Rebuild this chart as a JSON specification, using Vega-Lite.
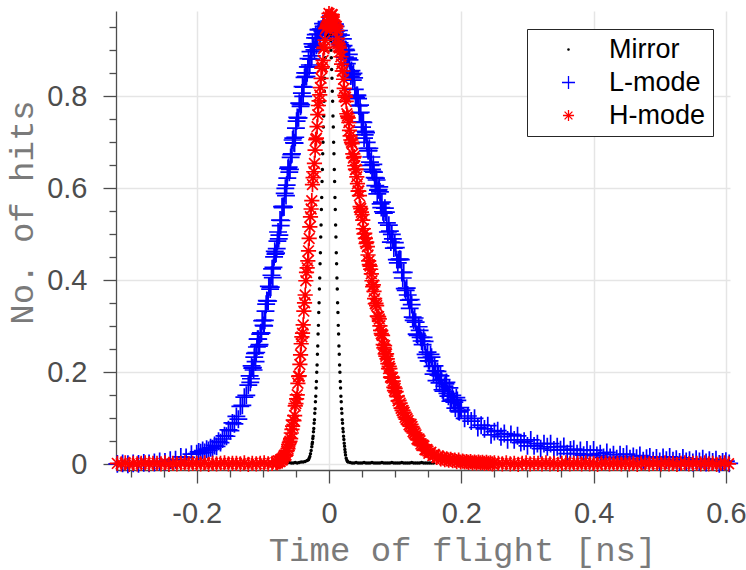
{
"$schema":"https://vega.github.io/schema/vega-lite/v6.json",
"width":614,"height":459,
"autosize":{"type":"none"},
"padding":{"left":116,"top":11,"right":16,"bottom":100},
"background":"white",
"config":{"view":{"stroke":null}},
"datasets":{"pts":[
{"s":"L","x":-0.32,"y":0.001},{"s":"L","x":-0.312,"y":0.002},{"s":"L","x":-0.304,"y":0},{"s":"L","x":-0.296,"y":0.002},{"s":"L","x":-0.288,"y":0.001},{"s":"L","x":-0.28,"y":0.003},{"s":"L","x":-0.272,"y":0.002},{"s":"L","x":-0.264,"y":0.004},{"s":"L","x":-0.256,"y":0.006},{"s":"L","x":-0.248,"y":0.005},{"s":"L","x":-0.24,"y":0.009},{"s":"L","x":-0.232,"y":0.01},{"s":"L","x":-0.224,"y":0.016},{"s":"L","x":-0.216,"y":0.015},{"s":"L","x":-0.208,"y":0.022},{"s":"L","x":-0.2,"y":0.023},
{"s":"L","x":-0.197,"y":0.027},{"s":"L","x":-0.194,"y":0.025},{"s":"L","x":-0.191,"y":0.03},{"s":"L","x":-0.188,"y":0.026},{"s":"L","x":-0.185,"y":0.033},{"s":"L","x":-0.182,"y":0.03},{"s":"L","x":-0.179,"y":0.036},{"s":"L","x":-0.176,"y":0.034},{"s":"L","x":-0.173,"y":0.041},{"s":"L","x":-0.17,"y":0.039},{"s":"L","x":-0.167,"y":0.05},{"s":"L","x":-0.164,"y":0.047},{"s":"L","x":-0.161,"y":0.055},{"s":"L","x":-0.158,"y":0.062},{"s":"L","x":-0.155,"y":0.061},{"s":"L","x":-0.152,"y":0.075},{"s":"L","x":-0.149,"y":0.073},{"s":"L","x":-0.146,"y":0.09},{"s":"L","x":-0.143,"y":0.088},{"s":"L","x":-0.14,"y":0.104},{"s":"L","x":-0.137,"y":0.098},{"s":"L","x":-0.134,"y":0.126},{"s":"L","x":-0.131,"y":0.128},{"s":"L","x":-0.128,"y":0.146},{"s":"L","x":-0.125,"y":0.15},{"s":"L","x":-0.122,"y":0.172},
{"s":"L","x":-0.12,"y":0.192},{"s":"L","x":-0.118,"y":0.186},{"s":"L","x":-0.116,"y":0.209},{"s":"L","x":-0.114,"y":0.205},{"s":"L","x":-0.112,"y":0.241},{"s":"L","x":-0.11,"y":0.243},{"s":"L","x":-0.108,"y":0.272},{"s":"L","x":-0.106,"y":0.257},{"s":"L","x":-0.104,"y":0.283},{"s":"L","x":-0.102,"y":0.285},{"s":"L","x":-0.1,"y":0.313},{"s":"L","x":-0.098,"y":0.301},{"s":"L","x":-0.096,"y":0.333},{"s":"L","x":-0.094,"y":0.356},{"s":"L","x":-0.092,"y":0.355},{"s":"L","x":-0.09,"y":0.386},{"s":"L","x":-0.088,"y":0.385},{"s":"L","x":-0.086,"y":0.425},{"s":"L","x":-0.084,"y":0.428},{"s":"L","x":-0.082,"y":0.463},{"s":"L","x":-0.08,"y":0.459},{"s":"L","x":-0.078,"y":0.485},{"s":"L","x":-0.076,"y":0.49},{"s":"L","x":-0.074,"y":0.531},{"s":"L","x":-0.072,"y":0.53},{"s":"L","x":-0.07,"y":0.558},{"s":"L","x":-0.068,"y":0.559},{"s":"L","x":-0.066,"y":0.6},{"s":"L","x":-0.064,"y":0.607},{"s":"L","x":-0.062,"y":0.643},{"s":"L","x":-0.06,"y":0.635},{"s":"L","x":-0.058,"y":0.667},{"s":"L","x":-0.056,"y":0.675},{"s":"L","x":-0.054,"y":0.709},{"s":"L","x":-0.052,"y":0.698},{"s":"L","x":-0.05,"y":0.731},{"s":"L","x":-0.048,"y":0.754},{"s":"L","x":-0.046,"y":0.753},{"s":"L","x":-0.044,"y":0.784},{"s":"L","x":-0.042,"y":0.782},{"s":"L","x":-0.04,"y":0.821},{"s":"L","x":-0.038,"y":0.82},{"s":"L","x":-0.036,"y":0.851},{"s":"L","x":-0.034,"y":0.843},{"s":"L","x":-0.032,"y":0.864},{"s":"L","x":-0.03,"y":0.864},{"s":"L","x":-0.028,"y":0.897},{"s":"L","x":-0.026,"y":0.888},{"s":"L","x":-0.024,"y":0.908},{"s":"L","x":-0.022,"y":0.901},{"s":"L","x":-0.02,"y":0.934},{"s":"L","x":-0.018,"y":0.927},{"s":"L","x":-0.016,"y":0.945},{"s":"L","x":-0.014,"y":0.927},{"s":"L","x":-0.012,"y":0.946},{"s":"L","x":-0.01,"y":0.941},{"s":"L","x":-0.008,"y":0.952},{"s":"L","x":-0.006,"y":0.933},{"s":"L","x":-0.004,"y":0.95},{"s":"L","x":-0.002,"y":0.955},{"s":"L","x":0,"y":0.943},{"s":"L","x":0.002,"y":0.954},{"s":"L","x":0.004,"y":0.937},{"s":"L","x":0.006,"y":0.953},{"s":"L","x":0.008,"y":0.943},{"s":"L","x":0.01,"y":0.952},{"s":"L","x":0.012,"y":0.933},{"s":"L","x":0.014,"y":0.935},{"s":"L","x":0.016,"y":0.916},{"s":"L","x":0.018,"y":0.933},{"s":"L","x":0.02,"y":0.908},{"s":"L","x":0.022,"y":0.91},{"s":"L","x":0.024,"y":0.885},{"s":"L","x":0.026,"y":0.9},{"s":"L","x":0.028,"y":0.881},{"s":"L","x":0.03,"y":0.891},{"s":"L","x":0.032,"y":0.853},{"s":"L","x":0.034,"y":0.856},{"s":"L","x":0.036,"y":0.835},{"s":"L","x":0.038,"y":0.84},{"s":"L","x":0.04,"y":0.8},{"s":"L","x":0.042,"y":0.802},{"s":"L","x":0.044,"y":0.795},{"s":"L","x":0.046,"y":0.764},{"s":"L","x":0.048,"y":0.765},{"s":"L","x":0.05,"y":0.733},{"s":"L","x":0.052,"y":0.743},{"s":"L","x":0.054,"y":0.716},{"s":"L","x":0.056,"y":0.721},{"s":"L","x":0.058,"y":0.687},{"s":"L","x":0.06,"y":0.682},{"s":"L","x":0.062,"y":0.657},{"s":"L","x":0.064,"y":0.668},{"s":"L","x":0.066,"y":0.637},{"s":"L","x":0.068,"y":0.635},{"s":"L","x":0.07,"y":0.606},{"s":"L","x":0.072,"y":0.618},{"s":"L","x":0.074,"y":0.596},{"s":"L","x":0.076,"y":0.603},{"s":"L","x":0.078,"y":0.566},{"s":"L","x":0.08,"y":0.57},
{"s":"L","x":-0.119,"y":0.178},{"s":"L","x":-0.117,"y":0.214},{"s":"L","x":-0.115,"y":0.21},{"s":"L","x":-0.113,"y":0.233},{"s":"L","x":-0.111,"y":0.223},{"s":"L","x":-0.109,"y":0.255},{"s":"L","x":-0.107,"y":0.272},{"s":"L","x":-0.105,"y":0.26},{"s":"L","x":-0.103,"y":0.286},{"s":"L","x":-0.101,"y":0.312},{"s":"L","x":-0.099,"y":0.302},{"s":"L","x":-0.097,"y":0.313},{"s":"L","x":-0.095,"y":0.348},{"s":"L","x":-0.093,"y":0.355},{"s":"L","x":-0.091,"y":0.387},{"s":"L","x":-0.089,"y":0.381},{"s":"L","x":-0.087,"y":0.411},{"s":"L","x":-0.085,"y":0.406},{"s":"L","x":-0.083,"y":0.451},{"s":"L","x":-0.081,"y":0.457},{"s":"L","x":-0.079,"y":0.469},{"s":"L","x":-0.077,"y":0.505},{"s":"L","x":-0.075,"y":0.498},{"s":"L","x":-0.073,"y":0.519},{"s":"L","x":-0.071,"y":0.56},{"s":"L","x":-0.069,"y":0.561},{"s":"L","x":-0.067,"y":0.589},{"s":"L","x":-0.065,"y":0.584},{"s":"L","x":-0.063,"y":0.622},{"s":"L","x":-0.061,"y":0.646},{"s":"L","x":-0.059,"y":0.641},{"s":"L","x":-0.057,"y":0.673},{"s":"L","x":-0.055,"y":0.705},{"s":"L","x":-0.053,"y":0.699},{"s":"L","x":-0.051,"y":0.711},{"s":"L","x":-0.049,"y":0.746},{"s":"L","x":-0.047,"y":0.753},{"s":"L","x":-0.045,"y":0.785},{"s":"L","x":-0.043,"y":0.778},{"s":"L","x":-0.041,"y":0.807},{"s":"L","x":-0.039,"y":0.8},{"s":"L","x":-0.037,"y":0.841},{"s":"L","x":-0.035,"y":0.843},{"s":"L","x":-0.033,"y":0.851},{"s":"L","x":-0.031,"y":0.882},{"s":"L","x":-0.029,"y":0.868},{"s":"L","x":-0.027,"y":0.881},{"s":"L","x":-0.025,"y":0.914},{"s":"L","x":-0.023,"y":0.907},{"s":"L","x":-0.021,"y":0.927},{"s":"L","x":-0.019,"y":0.911},{"s":"L","x":-0.017,"y":0.935},{"s":"L","x":-0.015,"y":0.945},{"s":"L","x":-0.013,"y":0.926},{"s":"L","x":-0.011,"y":0.945},{"s":"L","x":-0.009,"y":0.958},{"s":"L","x":-0.007,"y":0.941},{"s":"L","x":-0.005,"y":0.938},{"s":"L","x":-0.003,"y":0.958},{"s":"L","x":-0.001,"y":0.95},{"s":"L","x":0.001,"y":0.957},{"s":"L","x":0.003,"y":0.942},{"s":"L","x":0.005,"y":0.954},{"s":"L","x":0.007,"y":0.93},{"s":"L","x":0.009,"y":0.957},{"s":"L","x":0.011,"y":0.942},{"s":"L","x":0.013,"y":0.931},{"s":"L","x":0.015,"y":0.943},{"s":"L","x":0.017,"y":0.912},{"s":"L","x":0.019,"y":0.909},{"s":"L","x":0.021,"y":0.925},{"s":"L","x":0.023,"y":0.9},{"s":"L","x":0.025,"y":0.902},{"s":"L","x":0.027,"y":0.871},{"s":"L","x":0.029,"y":0.883},{"s":"L","x":0.031,"y":0.879},{"s":"L","x":0.033,"y":0.844},{"s":"L","x":0.035,"y":0.847},{"s":"L","x":0.037,"y":0.85},{"s":"L","x":0.039,"y":0.815},{"s":"L","x":0.041,"y":0.797},{"s":"L","x":0.043,"y":0.802},{"s":"L","x":0.045,"y":0.779},{"s":"L","x":0.047,"y":0.781},{"s":"L","x":0.049,"y":0.744},{"s":"L","x":0.051,"y":0.744},{"s":"L","x":0.053,"y":0.709},{"s":"L","x":0.055,"y":0.724},{"s":"L","x":0.057,"y":0.7},{"s":"L","x":0.059,"y":0.682},{"s":"L","x":0.061,"y":0.687},{"s":"L","x":0.063,"y":0.65},{"s":"L","x":0.065,"y":0.641},{"s":"L","x":0.067,"y":0.652},{"s":"L","x":0.069,"y":0.623},{"s":"L","x":0.071,"y":0.622},{"s":"L","x":0.073,"y":0.588},{"s":"L","x":0.075,"y":0.597},{"s":"L","x":0.077,"y":0.592},{"s":"L","x":0.079,"y":0.558},
{"s":"L","x":0.083,"y":0.546},{"s":"L","x":0.086,"y":0.548},{"s":"L","x":0.089,"y":0.505},{"s":"L","x":0.092,"y":0.507},{"s":"L","x":0.095,"y":0.5},{"s":"L","x":0.098,"y":0.47},{"s":"L","x":0.101,"y":0.471},{"s":"L","x":0.104,"y":0.438},{"s":"L","x":0.107,"y":0.446},{"s":"L","x":0.11,"y":0.417},{"s":"L","x":0.113,"y":0.417},{"s":"L","x":0.116,"y":0.378},{"s":"L","x":0.119,"y":0.368},{"s":"L","x":0.122,"y":0.339},{"s":"L","x":0.125,"y":0.347},{"s":"L","x":0.128,"y":0.313},{"s":"L","x":0.131,"y":0.309},{"s":"L","x":0.134,"y":0.28},{"s":"L","x":0.137,"y":0.291},{"s":"L","x":0.14,"y":0.268},{"s":"L","x":0.143,"y":0.276},{"s":"L","x":0.146,"y":0.239},{"s":"L","x":0.149,"y":0.244},{"s":"L","x":0.152,"y":0.225},{"s":"L","x":0.155,"y":0.233},{"s":"L","x":0.158,"y":0.196},{"s":"L","x":0.161,"y":0.203},{"s":"L","x":0.164,"y":0.202},{"s":"L","x":0.167,"y":0.177},{"s":"L","x":0.17,"y":0.184},{"s":"L","x":0.173,"y":0.159},{"s":"L","x":0.176,"y":0.175},{"s":"L","x":0.179,"y":0.154},{"s":"L","x":0.182,"y":0.166},{"s":"L","x":0.185,"y":0.139},{"s":"L","x":0.188,"y":0.141},{"s":"L","x":0.191,"y":0.122},{"s":"L","x":0.194,"y":0.139},{"s":"L","x":0.197,"y":0.114},{"s":"L","x":0.2,"y":0.118},
{"s":"L","x":0.0815,"y":0.549},{"s":"L","x":0.0845,"y":0.557},{"s":"L","x":0.0875,"y":0.525},{"s":"L","x":0.0905,"y":0.52},{"s":"L","x":0.0935,"y":0.483},{"s":"L","x":0.0965,"y":0.49},{"s":"L","x":0.0995,"y":0.482},{"s":"L","x":0.1025,"y":0.445},{"s":"L","x":0.1055,"y":0.445},{"s":"L","x":0.1085,"y":0.445},{"s":"L","x":0.1115,"y":0.405},{"s":"L","x":0.1145,"y":0.382},{"s":"L","x":0.1175,"y":0.383},{"s":"L","x":0.1205,"y":0.357},{"s":"L","x":0.1235,"y":0.358},{"s":"L","x":0.1265,"y":0.32},{"s":"L","x":0.1295,"y":0.318},{"s":"L","x":0.1325,"y":0.283},{"s":"L","x":0.1355,"y":0.299},{"s":"L","x":0.1385,"y":0.276},{"s":"L","x":0.1415,"y":0.26},{"s":"L","x":0.1445,"y":0.267},{"s":"L","x":0.1475,"y":0.232},{"s":"L","x":0.1505,"y":0.225},{"s":"L","x":0.1535,"y":0.239},{"s":"L","x":0.1565,"y":0.213},{"s":"L","x":0.1595,"y":0.214},{"s":"L","x":0.1625,"y":0.182},{"s":"L","x":0.1655,"y":0.194},{"s":"L","x":0.1685,"y":0.192},{"s":"L","x":0.1715,"y":0.162},{"s":"L","x":0.1745,"y":0.17},{"s":"L","x":0.1775,"y":0.178},{"s":"L","x":0.1805,"y":0.148},{"s":"L","x":0.1835,"y":0.137},{"s":"L","x":0.1865,"y":0.15},{"s":"L","x":0.1895,"y":0.135},{"s":"L","x":0.1925,"y":0.145},{"s":"L","x":0.1955,"y":0.116},{"s":"L","x":0.1985,"y":0.123},
{"s":"L","x":0.205,"y":0.1},{"s":"L","x":0.21,"y":0.105},{"s":"L","x":0.215,"y":0.094},{"s":"L","x":0.22,"y":0.1},{"s":"L","x":0.225,"y":0.08},{"s":"L","x":0.23,"y":0.085},{"s":"L","x":0.235,"y":0.077},{"s":"L","x":0.24,"y":0.084},{"s":"L","x":0.245,"y":0.064},{"s":"L","x":0.25,"y":0.071},{"s":"L","x":0.255,"y":0.073},{"s":"L","x":0.26,"y":0.06},{"s":"L","x":0.265,"y":0.067},{"s":"L","x":0.27,"y":0.053},{"s":"L","x":0.275,"y":0.065},{"s":"L","x":0.28,"y":0.053},{"s":"L","x":0.285,"y":0.062},{"s":"L","x":0.29,"y":0.047},{"s":"L","x":0.295,"y":0.05},{"s":"L","x":0.3,"y":0.04},{"s":"L","x":0.305,"y":0.053},{"s":"L","x":0.31,"y":0.04},{"s":"L","x":0.315,"y":0.045},{"s":"L","x":0.32,"y":0.034},{"s":"L","x":0.325,"y":0.045},{"s":"L","x":0.33,"y":0.038},{"s":"L","x":0.335,"y":0.045},{"s":"L","x":0.34,"y":0.031},{"s":"L","x":0.345,"y":0.038},{"s":"L","x":0.35,"y":0.032},{"s":"L","x":0.355,"y":0.039},{"s":"L","x":0.36,"y":0.023},{"s":"L","x":0.365,"y":0.031},{"s":"L","x":0.37,"y":0.033},{"s":"L","x":0.375,"y":0.023},{"s":"L","x":0.38,"y":0.03},{"s":"L","x":0.385,"y":0.02},{"s":"L","x":0.39,"y":0.031},{"s":"L","x":0.395,"y":0.022},{"s":"L","x":0.4,"y":0.031},{"s":"L","x":0.405,"y":0.019},{"s":"L","x":0.41,"y":0.023},{"s":"L","x":0.415,"y":0.015},{"s":"L","x":0.42,"y":0.026},{"s":"L","x":0.425,"y":0.015},{"s":"L","x":0.43,"y":0.021},{"s":"L","x":0.435,"y":0.012},{"s":"L","x":0.44,"y":0.021},{"s":"L","x":0.445,"y":0.016},{"s":"L","x":0.45,"y":0.022},{"s":"L","x":0.455,"y":0.012},{"s":"L","x":0.46,"y":0.017},{"s":"L","x":0.465,"y":0.013},{"s":"L","x":0.47,"y":0.019},{"s":"L","x":0.475,"y":0.008},{"s":"L","x":0.48,"y":0.013},{"s":"L","x":0.485,"y":0.016},{"s":"L","x":0.49,"y":0.008},{"s":"L","x":0.495,"y":0.014},{"s":"L","x":0.5,"y":0.006},{"s":"L","x":0.505,"y":0.015},{"s":"L","x":0.51,"y":0.009},{"s":"L","x":0.515,"y":0.016},{"s":"L","x":0.52,"y":0.008},{"s":"L","x":0.525,"y":0.011},{"s":"L","x":0.53,"y":0.005},{"s":"L","x":0.535,"y":0.014},{"s":"L","x":0.54,"y":0.006},{"s":"L","x":0.545,"y":0.009},{"s":"L","x":0.55,"y":0.004},{"s":"L","x":0.555,"y":0.011},{"s":"L","x":0.56,"y":0.006},{"s":"L","x":0.565,"y":0.012},{"s":"L","x":0.57,"y":0.004},{"s":"L","x":0.575,"y":0.009},{"s":"L","x":0.58,"y":0.005},{"s":"L","x":0.585,"y":0.01},{"s":"L","x":0.59,"y":0.001},{"s":"L","x":0.595,"y":0.005},{"s":"L","x":0.6,"y":0.007},{"s":"L","x":0.605,"y":0.002},
{"s":"M","x":-0.063,"y":0.003},{"s":"M","x":-0.06,"y":0.004},{"s":"M","x":-0.057,"y":0.003},{"s":"M","x":-0.054,"y":0.003},{"s":"M","x":-0.051,"y":0.004},{"s":"M","x":-0.048,"y":0.003},{"s":"M","x":-0.045,"y":0.004},{"s":"M","x":-0.042,"y":0.005},{"s":"M","x":-0.039,"y":0.005},{"s":"M","x":-0.036,"y":0.006},{"s":"M","x":-0.033,"y":0.008},{"s":"M","x":-0.031,"y":0.01},{"s":"M","x":-0.03,"y":0.013},{"s":"M","x":-0.029,"y":0.017},{"s":"M","x":-0.028,"y":0.023},{"s":"M","x":-0.027,"y":0.03},{"s":"M","x":-0.026,"y":0.038},{"s":"M","x":-0.0255,"y":0.044},{"s":"M","x":-0.025,"y":0.048},{"s":"M","x":-0.0245,"y":0.056},{"s":"M","x":-0.024,"y":0.061},{"s":"M","x":-0.0235,"y":0.071},{"s":"M","x":-0.023,"y":0.078},{"s":"M","x":-0.0225,"y":0.089},{"s":"M","x":-0.022,"y":0.097},{"s":"M","x":-0.0215,"y":0.111},{"s":"M","x":-0.021,"y":0.121},{"s":"M","x":-0.0205,"y":0.136},{"s":"M","x":-0.02,"y":0.148},{"s":"M","x":-0.0195,"y":0.166},{"s":"M","x":-0.019,"y":0.18},{"s":"M","x":-0.0185,"y":0.2},{"s":"M","x":-0.018,"y":0.216},{"s":"M","x":-0.0175,"y":0.239},{"s":"M","x":-0.017,"y":0.257},{"s":"M","x":-0.0165,"y":0.283},{"s":"M","x":-0.016,"y":0.302},{"s":"M","x":-0.0155,"y":0.33},{"s":"M","x":-0.015,"y":0.351},{"s":"M","x":-0.0145,"y":0.381},{"s":"M","x":-0.014,"y":0.405},{"s":"M","x":-0.0135,"y":0.436},{"s":"M","x":-0.013,"y":0.46},{"s":"M","x":-0.0125,"y":0.494},{"s":"M","x":-0.012,"y":0.52},{"s":"M","x":-0.0115,"y":0.554},{"s":"M","x":-0.011,"y":0.58},{"s":"M","x":-0.0105,"y":0.615},{"s":"M","x":-0.01,"y":0.641},{"s":"M","x":-0.0095,"y":0.675},{"s":"M","x":-0.009,"y":0.7},{"s":"M","x":-0.0085,"y":0.733},{"s":"M","x":-0.008,"y":0.757},{"s":"M","x":-0.0075,"y":0.789},{"s":"M","x":-0.007,"y":0.811},{"s":"M","x":-0.0065,"y":0.839},{"s":"M","x":-0.006,"y":0.858},{"s":"M","x":-0.0055,"y":0.884},{"s":"M","x":-0.005,"y":0.9},{"s":"M","x":-0.0045,"y":0.921},{"s":"M","x":-0.004,"y":0.933},{"s":"M","x":-0.0035,"y":0.951},{"s":"M","x":-0.003,"y":0.958},{"s":"M","x":-0.0025,"y":0.971},{"s":"M","x":-0.002,"y":0.973},{"s":"M","x":-0.0015,"y":0.98},{"s":"M","x":-0.001,"y":0.978},{"s":"M","x":-0.0005,"y":0.98},{"s":"M","x":0,"y":0.974},{"s":"M","x":0.0005,"y":0.97},{"s":"M","x":0.001,"y":0.958},{"s":"M","x":0.0015,"y":0.951},{"s":"M","x":0.002,"y":0.933},{"s":"M","x":0.0025,"y":0.921},{"s":"M","x":0.003,"y":0.9},{"s":"M","x":0.0035,"y":0.884},{"s":"M","x":0.004,"y":0.858},{"s":"M","x":0.0045,"y":0.839},{"s":"M","x":0.005,"y":0.811},{"s":"M","x":0.0055,"y":0.789},{"s":"M","x":0.006,"y":0.757},{"s":"M","x":0.0065,"y":0.733},{"s":"M","x":0.007,"y":0.7},{"s":"M","x":0.0075,"y":0.675},{"s":"M","x":0.008,"y":0.641},{"s":"M","x":0.0085,"y":0.615},{"s":"M","x":0.009,"y":0.58},{"s":"M","x":0.0095,"y":0.554},{"s":"M","x":0.01,"y":0.52},{"s":"M","x":0.0105,"y":0.494},{"s":"M","x":0.011,"y":0.46},{"s":"M","x":0.0115,"y":0.436},{"s":"M","x":0.012,"y":0.405},{"s":"M","x":0.0125,"y":0.381},{"s":"M","x":0.013,"y":0.351},{"s":"M","x":0.0135,"y":0.33},{"s":"M","x":0.014,"y":0.302},{"s":"M","x":0.0145,"y":0.283},{"s":"M","x":0.015,"y":0.257},{"s":"M","x":0.0155,"y":0.239},{"s":"M","x":0.016,"y":0.216},{"s":"M","x":0.0165,"y":0.2},{"s":"M","x":0.017,"y":0.18},{"s":"M","x":0.0175,"y":0.166},{"s":"M","x":0.018,"y":0.148},{"s":"M","x":0.0185,"y":0.136},{"s":"M","x":0.019,"y":0.121},{"s":"M","x":0.0195,"y":0.111},{"s":"M","x":0.02,"y":0.097},{"s":"M","x":0.0205,"y":0.089},{"s":"M","x":0.021,"y":0.078},{"s":"M","x":0.0215,"y":0.071},{"s":"M","x":0.022,"y":0.061},{"s":"M","x":0.0225,"y":0.054},{"s":"M","x":0.023,"y":0.046},{"s":"M","x":0.0235,"y":0.039},{"s":"M","x":0.024,"y":0.032},{"s":"M","x":0.0245,"y":0.026},{"s":"M","x":0.025,"y":0.02},{"s":"M","x":0.026,"y":0.013},{"s":"M","x":0.027,"y":0.009},{"s":"M","x":0.028,"y":0.006},{"s":"M","x":0.029,"y":0.005},
{"s":"M","x":0.032,"y":0.004},{"s":"M","x":0.035,"y":0.003},{"s":"M","x":0.038,"y":0.003},{"s":"M","x":0.041,"y":0.004},{"s":"M","x":0.044,"y":0.003},{"s":"M","x":0.047,"y":0.003},{"s":"M","x":0.05,"y":0.003},{"s":"M","x":0.053,"y":0.004},{"s":"M","x":0.056,"y":0.003},{"s":"M","x":0.059,"y":0.003},{"s":"M","x":0.062,"y":0.003},{"s":"M","x":0.065,"y":0.004},{"s":"M","x":0.068,"y":0.003},{"s":"M","x":0.071,"y":0.003},{"s":"M","x":0.074,"y":0.003},{"s":"M","x":0.077,"y":0.003},{"s":"M","x":0.08,"y":0.004},{"s":"M","x":0.083,"y":0.003},{"s":"M","x":0.086,"y":0.003},{"s":"M","x":0.089,"y":0.003},{"s":"M","x":0.092,"y":0.003},{"s":"M","x":0.095,"y":0.004},{"s":"M","x":0.098,"y":0.003},{"s":"M","x":0.101,"y":0.003},{"s":"M","x":0.104,"y":0.003},{"s":"M","x":0.107,"y":0.003},{"s":"M","x":0.11,"y":0.004},{"s":"M","x":0.113,"y":0.003},{"s":"M","x":0.116,"y":0.003},{"s":"M","x":0.119,"y":0.003},{"s":"M","x":0.122,"y":0.003},{"s":"M","x":0.125,"y":0.004},{"s":"M","x":0.128,"y":0.003},{"s":"M","x":0.131,"y":0.003},{"s":"M","x":0.134,"y":0.003},{"s":"M","x":0.137,"y":0.003},{"s":"M","x":0.14,"y":0.004},{"s":"M","x":0.143,"y":0.003},{"s":"M","x":0.146,"y":0.003},{"s":"M","x":0.149,"y":0.003},{"s":"M","x":0.152,"y":0.003},{"s":"M","x":0.155,"y":0.003},{"s":"M","x":0.158,"y":0.003},
{"s":"H","x":-0.32,"y":0.002},{"s":"H","x":-0.314,"y":0.001},{"s":"H","x":-0.308,"y":0.003},{"s":"H","x":-0.302,"y":0},{"s":"H","x":-0.296,"y":0.002},{"s":"H","x":-0.29,"y":0.001},{"s":"H","x":-0.284,"y":0.002},{"s":"H","x":-0.278,"y":0.003},{"s":"H","x":-0.272,"y":0.001},{"s":"H","x":-0.266,"y":0.002},{"s":"H","x":-0.26,"y":0.002},{"s":"H","x":-0.254,"y":0.001},{"s":"H","x":-0.248,"y":0.003},{"s":"H","x":-0.242,"y":0},{"s":"H","x":-0.236,"y":0.002},{"s":"H","x":-0.23,"y":0.001},{"s":"H","x":-0.224,"y":0.002},{"s":"H","x":-0.218,"y":0.003},{"s":"H","x":-0.212,"y":0.001},{"s":"H","x":-0.206,"y":0.002},{"s":"H","x":-0.2,"y":0.002},{"s":"H","x":-0.194,"y":0.001},{"s":"H","x":-0.188,"y":0.003},{"s":"H","x":-0.182,"y":0},{"s":"H","x":-0.176,"y":0.002},{"s":"H","x":-0.17,"y":0.001},{"s":"H","x":-0.164,"y":0.002},{"s":"H","x":-0.158,"y":0.003},{"s":"H","x":-0.152,"y":0.001},{"s":"H","x":-0.146,"y":0.002},{"s":"H","x":-0.14,"y":0.002},{"s":"H","x":-0.134,"y":0.001},{"s":"H","x":-0.128,"y":0.003},{"s":"H","x":-0.122,"y":0},{"s":"H","x":-0.116,"y":0.002},{"s":"H","x":-0.11,"y":0.001},{"s":"H","x":-0.104,"y":0.002},{"s":"H","x":-0.098,"y":0.003},{"s":"H","x":-0.092,"y":0.001},{"s":"H","x":-0.086,"y":0.002},
{"s":"H","x":-0.08,"y":0.004},{"s":"H","x":-0.078,"y":0.003},{"s":"H","x":-0.076,"y":0.007},{"s":"H","x":-0.074,"y":0.006},{"s":"H","x":-0.072,"y":0.011},{"s":"H","x":-0.07,"y":0.012},{"s":"H","x":-0.068,"y":0.018},{"s":"H","x":-0.066,"y":0.018},{"s":"H","x":-0.064,"y":0.028},{"s":"H","x":-0.062,"y":0.034},{"s":"H","x":-0.06,"y":0.047},{"s":"H","x":-0.058,"y":0.056},{"s":"H","x":-0.056,"y":0.076},{"s":"H","x":-0.054,"y":0.096},{"s":"H","x":-0.052,"y":0.106},{"s":"H","x":-0.05,"y":0.132},{"s":"H","x":-0.048,"y":0.151},{"s":"H","x":-0.046,"y":0.191},{"s":"H","x":-0.044,"y":0.217},{"s":"H","x":-0.042,"y":0.262},{"s":"H","x":-0.04,"y":0.285},{"s":"H","x":-0.038,"y":0.333},{"s":"H","x":-0.036,"y":0.368},{"s":"H","x":-0.034,"y":0.417},{"s":"H","x":-0.032,"y":0.442},{"s":"H","x":-0.03,"y":0.491},{"s":"H","x":-0.028,"y":0.538},{"s":"H","x":-0.026,"y":0.573},{"s":"H","x":-0.024,"y":0.623},{"s":"H","x":-0.022,"y":0.654},{"s":"H","x":-0.02,"y":0.706},{"s":"H","x":-0.018,"y":0.734},{"s":"H","x":-0.016,"y":0.78},{"s":"H","x":-0.014,"y":0.803},{"s":"H","x":-0.012,"y":0.839},{"s":"H","x":-0.01,"y":0.864},{"s":"H","x":-0.008,"y":0.904},{"s":"H","x":-0.006,"y":0.922},{"s":"H","x":-0.004,"y":0.949},{"s":"H","x":-0.002,"y":0.954},{"s":"H","x":0,"y":0.98},{"s":"H","x":0.002,"y":0.973},{"s":"H","x":0.004,"y":0.978},{"s":"H","x":0.006,"y":0.963},{"s":"H","x":0.008,"y":0.962},{"s":"H","x":0.01,"y":0.948},{"s":"H","x":0.012,"y":0.943},{"s":"H","x":0.014,"y":0.914},{"s":"H","x":0.016,"y":0.905},{"s":"H","x":0.018,"y":0.886},{"s":"H","x":0.02,"y":0.855},{"s":"H","x":0.022,"y":0.837},{"s":"H","x":0.024,"y":0.802},{"s":"H","x":0.026,"y":0.789},{"s":"H","x":0.028,"y":0.757},{"s":"H","x":0.03,"y":0.743},{"s":"H","x":0.032,"y":0.714},{"s":"H","x":0.034,"y":0.7},{"s":"H","x":0.036,"y":0.675},{"s":"H","x":0.038,"y":0.669},{"s":"H","x":0.04,"y":0.641},{"s":"H","x":0.042,"y":0.625},{"s":"H","x":0.044,"y":0.594},{"s":"H","x":0.046,"y":0.584},{"s":"H","x":0.048,"y":0.556},{"s":"H","x":0.05,"y":0.543},{"s":"H","x":0.052,"y":0.512},{"s":"H","x":0.054,"y":0.502},{"s":"H","x":0.056,"y":0.48},{"s":"H","x":0.058,"y":0.473},{"s":"H","x":0.06,"y":0.442},{"s":"H","x":0.062,"y":0.431},{"s":"H","x":0.064,"y":0.414},{"s":"H","x":0.066,"y":0.386},{"s":"H","x":0.068,"y":0.376},{"s":"H","x":0.07,"y":0.349},{"s":"H","x":0.072,"y":0.345},{"s":"H","x":0.074,"y":0.321},{"s":"H","x":0.076,"y":0.316},{"s":"H","x":0.078,"y":0.291},{"s":"H","x":0.08,"y":0.281},{"s":"H","x":0.082,"y":0.26},{"s":"H","x":0.084,"y":0.258},{"s":"H","x":0.086,"y":0.235},{"s":"H","x":0.088,"y":0.229},{"s":"H","x":0.09,"y":0.208},{"s":"H","x":0.092,"y":0.208},{"s":"H","x":0.094,"y":0.19},{"s":"H","x":0.096,"y":0.189},{"s":"H","x":0.098,"y":0.167},{"s":"H","x":0.1,"y":0.165},
{"s":"H","x":-0.079,"y":0.004},{"s":"H","x":-0.077,"y":0.007},{"s":"H","x":-0.075,"y":0.006},{"s":"H","x":-0.073,"y":0.01},{"s":"H","x":-0.071,"y":0.009},{"s":"H","x":-0.069,"y":0.015},{"s":"H","x":-0.067,"y":0.02},{"s":"H","x":-0.065,"y":0.02},{"s":"H","x":-0.063,"y":0.03},{"s":"H","x":-0.061,"y":0.043},{"s":"H","x":-0.059,"y":0.05},{"s":"H","x":-0.057,"y":0.068},{"s":"H","x":-0.055,"y":0.083},{"s":"H","x":-0.053,"y":0.095},{"s":"H","x":-0.051,"y":0.127},{"s":"H","x":-0.049,"y":0.142},{"s":"H","x":-0.047,"y":0.176},{"s":"H","x":-0.045,"y":0.192},{"s":"H","x":-0.043,"y":0.238},{"s":"H","x":-0.041,"y":0.277},{"s":"H","x":-0.039,"y":0.303},{"s":"H","x":-0.037,"y":0.351},{"s":"H","x":-0.035,"y":0.399},{"s":"H","x":-0.033,"y":0.427},{"s":"H","x":-0.031,"y":0.464},{"s":"H","x":-0.029,"y":0.516},{"s":"H","x":-0.027,"y":0.555},{"s":"H","x":-0.025,"y":0.608},{"s":"H","x":-0.023,"y":0.636},{"s":"H","x":-0.021,"y":0.683},{"s":"H","x":-0.019,"y":0.709},{"s":"H","x":-0.017,"y":0.76},{"s":"H","x":-0.015,"y":0.79},{"s":"H","x":-0.013,"y":0.819},{"s":"H","x":-0.011,"y":0.861},{"s":"H","x":-0.009,"y":0.878},{"s":"H","x":-0.007,"y":0.907},{"s":"H","x":-0.005,"y":0.947},{"s":"H","x":-0.003,"y":0.952},{"s":"H","x":-0.001,"y":0.972},{"s":"H","x":0.001,"y":0.966},{"s":"H","x":0.003,"y":0.975},{"s":"H","x":0.005,"y":0.977},{"s":"H","x":0.007,"y":0.956},{"s":"H","x":0.009,"y":0.955},{"s":"H","x":0.011,"y":0.952},{"s":"H","x":0.013,"y":0.926},{"s":"H","x":0.015,"y":0.909},{"s":"H","x":0.017,"y":0.897},{"s":"H","x":0.019,"y":0.87},{"s":"H","x":0.021,"y":0.855},{"s":"H","x":0.023,"y":0.817},{"s":"H","x":0.025,"y":0.798},{"s":"H","x":0.027,"y":0.762},{"s":"H","x":0.029,"y":0.753},{"s":"H","x":0.031,"y":0.726},{"s":"H","x":0.033,"y":0.705},{"s":"H","x":0.035,"y":0.697},{"s":"H","x":0.037,"y":0.666},{"s":"H","x":0.039,"y":0.649},{"s":"H","x":0.041,"y":0.641},{"s":"H","x":0.043,"y":0.61},{"s":"H","x":0.045,"y":0.594},{"s":"H","x":0.047,"y":0.56},{"s":"H","x":0.049,"y":0.548},{"s":"H","x":0.051,"y":0.531},{"s":"H","x":0.053,"y":0.501},{"s":"H","x":0.055,"y":0.491},{"s":"H","x":0.057,"y":0.483},{"s":"H","x":0.059,"y":0.455},{"s":"H","x":0.061,"y":0.434},{"s":"H","x":0.063,"y":0.424},{"s":"H","x":0.065,"y":0.399},{"s":"H","x":0.067,"y":0.39},{"s":"H","x":0.069,"y":0.36},{"s":"H","x":0.071,"y":0.35},{"s":"H","x":0.073,"y":0.322},{"s":"H","x":0.075,"y":0.321},{"s":"H","x":0.077,"y":0.301},{"s":"H","x":0.079,"y":0.284},{"s":"H","x":0.081,"y":0.28},{"s":"H","x":0.083,"y":0.253},{"s":"H","x":0.085,"y":0.24},{"s":"H","x":0.087,"y":0.24},{"s":"H","x":0.089,"y":0.219},{"s":"H","x":0.091,"y":0.213},{"s":"H","x":0.093,"y":0.189},{"s":"H","x":0.095,"y":0.187},{"s":"H","x":0.097,"y":0.181},{"s":"H","x":0.099,"y":0.16},
{"s":"H","x":0.1015,"y":0.158},{"s":"H","x":0.1045,"y":0.138},{"s":"H","x":0.1075,"y":0.133},{"s":"H","x":0.1105,"y":0.117},{"s":"H","x":0.1135,"y":0.113},{"s":"H","x":0.1165,"y":0.098},{"s":"H","x":0.1195,"y":0.095},{"s":"H","x":0.1225,"y":0.083},{"s":"H","x":0.1255,"y":0.082},{"s":"H","x":0.1285,"y":0.068},{"s":"H","x":0.1315,"y":0.064},{"s":"H","x":0.1345,"y":0.053},{"s":"H","x":0.1375,"y":0.051},{"s":"H","x":0.1405,"y":0.041},{"s":"H","x":0.1435,"y":0.04},{"s":"H","x":0.1465,"y":0.031},{"s":"H","x":0.1495,"y":0.029},
{"s":"H","x":0.103,"y":0.147},{"s":"H","x":0.106,"y":0.139},{"s":"H","x":0.109,"y":0.122},{"s":"H","x":0.112,"y":0.117},{"s":"H","x":0.115,"y":0.102},{"s":"H","x":0.118,"y":0.099},{"s":"H","x":0.121,"y":0.086},{"s":"H","x":0.124,"y":0.087},{"s":"H","x":0.127,"y":0.071},{"s":"H","x":0.13,"y":0.068},{"s":"H","x":0.133,"y":0.055},{"s":"H","x":0.136,"y":0.055},{"s":"H","x":0.139,"y":0.044},{"s":"H","x":0.142,"y":0.042},{"s":"H","x":0.145,"y":0.032},{"s":"H","x":0.148,"y":0.032},{"s":"H","x":0.151,"y":0.024},{"s":"H","x":0.154,"y":0.026},{"s":"H","x":0.157,"y":0.019},{"s":"H","x":0.16,"y":0.02},{"s":"H","x":0.163,"y":0.015},{"s":"H","x":0.166,"y":0.017},{"s":"H","x":0.169,"y":0.012},{"s":"H","x":0.172,"y":0.014},{"s":"H","x":0.175,"y":0.01},{"s":"H","x":0.178,"y":0.012},{"s":"H","x":0.181,"y":0.009},{"s":"H","x":0.184,"y":0.011},{"s":"H","x":0.187,"y":0.008},{"s":"H","x":0.19,"y":0.009},{"s":"H","x":0.193,"y":0.006},{"s":"H","x":0.196,"y":0.009},{"s":"H","x":0.199,"y":0.005},{"s":"H","x":0.202,"y":0.007},{"s":"H","x":0.205,"y":0.005},{"s":"H","x":0.208,"y":0.006},{"s":"H","x":0.211,"y":0.004},{"s":"H","x":0.214,"y":0.006},{"s":"H","x":0.217,"y":0.003},{"s":"H","x":0.22,"y":0.005},{"s":"H","x":0.223,"y":0.003},{"s":"H","x":0.226,"y":0.005},{"s":"H","x":0.229,"y":0.003},{"s":"H","x":0.232,"y":0.004},{"s":"H","x":0.235,"y":0.002},{"s":"H","x":0.238,"y":0.004},{"s":"H","x":0.241,"y":0.002},{"s":"H","x":0.244,"y":0.003},{"s":"H","x":0.247,"y":0.001},{"s":"H","x":0.25,"y":0.003},
{"s":"H","x":0.256,"y":0.002},{"s":"H","x":0.262,"y":0.001},{"s":"H","x":0.268,"y":0.003},{"s":"H","x":0.274,"y":0.001},{"s":"H","x":0.28,"y":0.002},{"s":"H","x":0.286,"y":0},{"s":"H","x":0.292,"y":0.002},{"s":"H","x":0.298,"y":0.003},{"s":"H","x":0.304,"y":0.001},{"s":"H","x":0.31,"y":0.002},{"s":"H","x":0.316,"y":0.002},{"s":"H","x":0.322,"y":0.001},{"s":"H","x":0.328,"y":0.003},{"s":"H","x":0.334,"y":0.001},{"s":"H","x":0.34,"y":0.002},{"s":"H","x":0.346,"y":0},{"s":"H","x":0.352,"y":0.002},{"s":"H","x":0.358,"y":0.003},{"s":"H","x":0.364,"y":0.001},{"s":"H","x":0.37,"y":0.002},{"s":"H","x":0.376,"y":0.002},{"s":"H","x":0.382,"y":0.001},{"s":"H","x":0.388,"y":0.003},{"s":"H","x":0.394,"y":0.001},{"s":"H","x":0.4,"y":0.002},{"s":"H","x":0.406,"y":0},{"s":"H","x":0.412,"y":0.002},{"s":"H","x":0.418,"y":0.003},{"s":"H","x":0.424,"y":0.001},{"s":"H","x":0.43,"y":0.002},{"s":"H","x":0.436,"y":0.002},{"s":"H","x":0.442,"y":0.001},{"s":"H","x":0.448,"y":0.003},{"s":"H","x":0.454,"y":0.001},{"s":"H","x":0.46,"y":0.002},{"s":"H","x":0.466,"y":0},{"s":"H","x":0.472,"y":0.002},{"s":"H","x":0.478,"y":0.003},{"s":"H","x":0.484,"y":0.001},{"s":"H","x":0.49,"y":0.002},{"s":"H","x":0.496,"y":0.002},{"s":"H","x":0.502,"y":0.001},{"s":"H","x":0.508,"y":0.003},{"s":"H","x":0.514,"y":0.001},{"s":"H","x":0.52,"y":0.002},{"s":"H","x":0.526,"y":0},{"s":"H","x":0.532,"y":0.002},{"s":"H","x":0.538,"y":0.003},{"s":"H","x":0.544,"y":0.001},{"s":"H","x":0.55,"y":0.002},{"s":"H","x":0.556,"y":0.002},{"s":"H","x":0.562,"y":0.001},{"s":"H","x":0.568,"y":0.003},{"s":"H","x":0.574,"y":0.001},{"s":"H","x":0.58,"y":0.002},{"s":"H","x":0.586,"y":0},{"s":"H","x":0.592,"y":0.002},{"s":"H","x":0.598,"y":0.003},{"s":"H","x":0.604,"y":0.001}
]},
"layer":[
{
"data":{"values":[{}]},
"mark":{"type":"point","opacity":0},
"encoding":{
"x":{"datum":0,"type":"quantitative","scale":{"domain":[-0.322,0.6062],"nice":false,"zero":false},
"axis":{"orient":"bottom","values":[-0.3,-0.25,-0.15,-0.1,-0.05,0.05,0.1,0.15,0.25,0.3,0.35,0.45,0.5,0.55],"labels":false,"domain":false,"grid":false,"title":null,"tickSize":7,"tickColor":"#4d4d4d","tickWidth":1.3}},
"y":{"datum":0,"type":"quantitative","scale":{"domain":[-0.0124,0.9854],"nice":false,"zero":false},
"axis":{"orient":"left","values":[0.05,0.1,0.15,0.25,0.3,0.35,0.45,0.5,0.55,0.65,0.7,0.75,0.85,0.9,0.95],"labels":false,"domain":false,"grid":false,"title":null,"tickSize":7,"tickColor":"#4d4d4d","tickWidth":1.3}}
}
},
{
"data":{"name":"pts"},
"mark":{"type":"point","filled":false,"opacity":1,"strokeWidth":1.7,"size":320},
"encoding":{
"x":{"field":"x","type":"quantitative","scale":{"domain":[-0.322,0.6062],"nice":false,"zero":false},
"axis":{"orient":"bottom","values":[-0.2,0,0.2,0.4,0.6],"labelExpr":"toString(datum.value)","grid":true,"gridColor":"#e5e5e5","gridWidth":1.5,"domainColor":"#4d4d4d","domainWidth":1.3,"tickColor":"#4d4d4d","tickWidth":1.3,"tickSize":13,"labelFont":"Liberation Sans","labelFontSize":29,"labelColor":"#4d4d4d","labelPadding":16,"labelFlush":false,"labelOverlap":false,"title":"Time of flight [ns]","titleFont":"Liberation Mono","titleFontSize":34,"titleFontWeight":"normal","titleColor":"#7a7a7a","titleX":346,"titleY":90,"titleBaseline":"alphabetic"}},
"y":{"field":"y","type":"quantitative","scale":{"domain":[-0.0124,0.9854],"nice":false,"zero":false},
"axis":{"orient":"left","values":[0,0.2,0.4,0.6,0.8],"labelExpr":"toString(datum.value)","grid":true,"gridColor":"#e5e5e5","gridWidth":1.5,"domainColor":"#4d4d4d","domainWidth":1.3,"tickColor":"#4d4d4d","tickWidth":1.3,"tickSize":13,"labelFont":"Liberation Sans","labelFontSize":29,"labelColor":"#4d4d4d","labelPadding":16,"labelFlush":false,"labelOverlap":false,"title":"No. of hits","titleFont":"Liberation Mono","titleFontSize":34,"titleFontWeight":"normal","titleColor":"#7a7a7a","titleX":-84,"titleY":201,"titleAngle":270,"titleBaseline":"alphabetic"}},
"color":{"field":"s","type":"nominal","scale":{"domain":["M","L","H"],"range":["#000000","#0000ff","#ff0000"]},
"legend":{"orient":"none","legendX":411,"legendY":18,"title":null,"strokeColor":"#262626","fillColor":"white","padding":7,"labelFontSize":27,"labelFont":"Liberation Sans","labelColor":"#000000","symbolSize":170,"symbolStrokeWidth":1.3,"rowPadding":5,"symbolOffset":21,"labelOffset":27,"labelExpr":"(datum.label == 'M' ? 'Mirror' : datum.label == 'L' ? 'L-mode' : 'H-mode') + '\u2002'"}},
"shape":{"field":"s","type":"nominal","scale":{"domain":["M","L","H"],"range":["M-0.1,0A0.1,0.1,0,1,0,0.1,0A0.1,0.1,0,1,0,-0.1,0Z","M-1,0L1,0M0,-1L0,1","M-0.85,0L0.85,0M0,-0.85L0,0.85M-0.6,-0.6L0.6,0.6M-0.6,0.6L0.6,-0.6"]},
"legend":{"orient":"none","legendX":411,"legendY":18,"title":null,"strokeColor":"#262626","fillColor":"white","padding":7,"labelFontSize":27,"labelFont":"Liberation Sans","labelColor":"#000000","symbolSize":170,"symbolStrokeWidth":1.3,"rowPadding":5,"symbolOffset":21,"labelOffset":27,"labelExpr":"(datum.label == 'M' ? 'Mirror' : datum.label == 'L' ? 'L-mode' : 'H-mode') + '\u2002'"}}
}
}
],
"resolve":{"axis":{"x":"independent","y":"independent"}}
}
